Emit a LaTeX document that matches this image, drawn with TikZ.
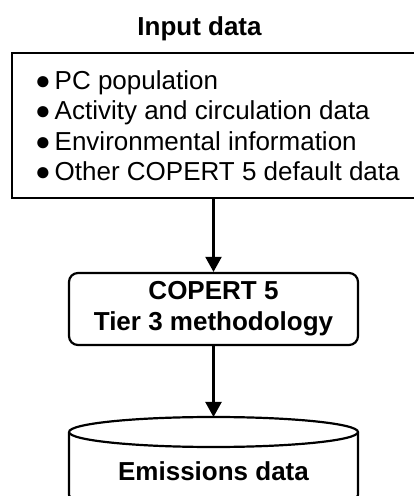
\documentclass[tikz,border=0pt]{standalone}
\usepackage{fontspec}
\setmainfont{Liberation Sans}
\usetikzlibrary{arrows.meta}
\begin{document}
\begin{tikzpicture}[x=1pt,y=1pt,
  line width=2.2pt,
  txt/.style={font=\fontsize{26}{30.5}\selectfont},
  btxt/.style={font=\fontsize{26}{31}\selectfont\bfseries},
  arr/.style={-{Triangle[length=15pt,width=16pt]}, line width=2.2pt},
  inbox/.style={draw, rectangle, minimum width=403.6pt, minimum height=145pt, inner sep=0pt},
  procbox/.style={draw, rectangle, rounded corners=9pt, btxt, align=center,
     minimum width=289pt, minimum height=72pt, inner sep=0pt}
]
\useasboundingbox (0,0) rectangle (414,496);
\node[btxt, anchor=base] (title) at (199.5,460) {Input data};
\node[inbox] (input) at (213.5,370.5) {};
\node[txt, align=left, anchor=west, inner sep=0pt] (inputtxt) at ([xshift=23.3pt]input.west)
  {●\hspace{4pt}PC population\\●\hspace{4pt}Activity and circulation data\\●\hspace{4pt}Environmental information\\●\hspace{4pt}Other COPERT 5 default data};
\node[procbox] (proc) at (213.5,187) {COPERT 5\\Tier 3 methodology};
% cylinder
\coordinate (cyltop) at (213.5,79);
\draw (69,64) arc[start angle=180,end angle=0,x radius=144.5,y radius=15]
      arc[start angle=0,end angle=-180,x radius=144.5,y radius=15];
\draw (69,64) -- (69,1) arc[start angle=180,end angle=360,x radius=144.5,y radius=15] -- (358,64);
\node[btxt, anchor=base] (emis) at (213.5,15.3) {Emissions data};
\draw[arr] (input.south) -- (proc.north);
\draw[arr] (proc.south) -- (cyltop);
\end{tikzpicture}
\end{document}
